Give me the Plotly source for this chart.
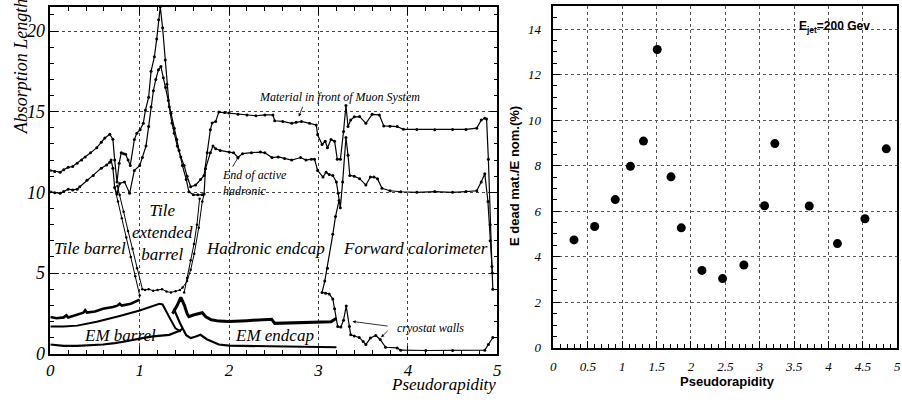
import plotly.graph_objects as go

# ---------------- left panel data (eta, absorption length) ----------------
muon_eta = [0.00,0.05,0.11,0.15,0.20,0.25,0.30,0.35,0.39,0.45,0.52,0.57,0.61,0.665,0.70,0.72,0.746,0.77,0.794,0.82,0.842,0.87,0.894,0.94,0.968,1.005,1.04,1.064,1.10,1.127,1.164,1.19,1.212,1.23,1.256,1.286,1.304,1.33,1.36,1.386,1.42,1.46,1.497,1.53,1.57,1.625,1.68,1.72,1.755,1.79,1.81,1.85,1.885,1.95,2.0,2.1,2.2,2.3,2.4,2.49,2.51,2.6,2.70,2.75,2.81,2.90,2.975,2.99,3.04,3.075,3.10,3.14,3.18,3.21,3.245,3.28,3.307,3.33,3.36,3.40,3.46,3.53,3.60,3.68,3.73,3.80,3.88,3.95,4.1,4.3,4.5,4.65,4.77,4.82,4.86,4.88,4.90,4.92,4.94,4.95]
muon_val = [11.36,11.30,11.25,11.40,11.55,11.60,11.80,12.00,12.20,12.45,12.77,13.10,13.37,13.60,13.30,12.00,10.65,11.8,12.46,12.40,12.36,12.0,11.66,13.27,13.67,13.88,14.28,15.1,15.9,17.5,18.4,19.5,20.7,21.5,20.2,18.2,16.7,15.3,14.3,13.67,12.87,12.2,11.66,11.0,10.35,10.45,10.8,11.05,12.46,13.88,14.3,14.4,14.98,14.95,14.92,14.85,14.8,14.75,14.8,14.8,14.44,14.4,14.28,14.35,14.4,14.28,14.18,13.57,12.97,13.17,12.77,13.27,13.17,12.06,12.06,13.77,15.39,14.08,14.48,14.68,14.7,14.28,14.84,14.8,14.12,14.1,14.08,13.91,13.9,13.88,13.9,13.9,13.98,14.48,14.6,14.55,12.06,8.0,5.4,4.0]

active_eta = [0.00,0.05,0.11,0.15,0.20,0.25,0.30,0.33,0.41,0.48,0.57,0.63,0.665,0.68,0.70,0.72,0.745,0.776,0.83,0.887,0.94,1.0,1.03,1.07,1.10,1.127,1.153,1.18,1.21,1.237,1.264,1.29,1.32,1.35,1.386,1.415,1.44,1.478,1.52,1.55,1.60,1.65,1.70,1.72,1.736,1.79,1.82,1.85,1.9,2.0,2.05,2.1,2.15,2.25,2.35,2.40,2.48,2.55,2.62,2.70,2.80,2.86,2.92,2.955,2.99,3.05,3.085,3.12,3.16,3.2,3.22,3.244,3.27,3.307,3.33,3.35,3.40,3.46,3.53,3.58,3.62,3.66,3.71,3.80,3.92,4.1,4.3,4.5,4.65,4.77,4.82,4.86,4.895,4.92,4.945]
active_val = [10.04,9.98,9.94,10.05,10.2,10.15,10.2,10.35,10.75,11.05,11.5,11.7,11.86,12.0,11.5,10.3,9.9,10.55,10.65,9.94,11.36,11.66,12.16,12.87,14.08,15.29,16.3,17.0,17.6,17.8,17.1,16.5,15.7,14.9,13.97,13.27,12.6,11.66,10.8,10.04,9.85,9.85,9.85,9.9,11.46,12.46,12.87,12.7,12.6,12.5,12.45,12.16,12.4,12.46,12.5,12.45,12.16,12.2,12.1,12.0,12.16,12.0,12.06,12.06,11.36,10.95,11.25,11.1,11.05,10.65,9.94,9.04,10.65,13.4,12.3,11.05,11.0,10.85,10.45,10.95,10.95,10.85,10.25,10.1,10.04,10.0,10.05,10.0,10.05,10.1,10.65,11.16,9.44,7.0,5.0]

tileb1_eta = [0.72,0.757,0.80,0.85,0.90,0.95,1.0]
tileb1_val = [10.3,9.44,8.4,7.2,6.0,4.8,3.6]
tileb2_eta = [0.75,0.776,0.82,0.87,0.92,0.97,1.03,1.06,1.10,1.15,1.20,1.25,1.30,1.35,1.40,1.45,1.48,1.53,1.57,1.61,1.66,1.70,1.72]
tileb2_val = [10.4,9.84,8.8,7.6,6.5,5.3,4.0,3.95,4.0,3.9,3.95,4.0,3.85,3.8,3.87,3.95,4.1,4.5,5.2,6.2,7.8,9.44,9.9]
hec2_eta = [1.497,1.53,1.57,1.607,1.64,1.67]
hec2_val = [3.79,4.7,5.8,6.8,8.0,9.6]

fwd_eta = [3.23,3.19,3.16,3.10,3.07,3.04,3.08,3.12,3.16,3.18,3.215,3.25,3.28,3.31,3.345,3.36,3.40,3.455,3.50,3.53,3.58,3.64,3.69,3.75,3.88,3.92,4.2,4.5,4.86,4.9,4.95]
fwd_val = [9.5,8.5,7.4,5.3,4.5,3.8,3.75,3.7,3.39,2.78,1.68,1.65,2.08,2.95,1.68,1.17,1.1,1.01,0.75,0.57,0.97,1.13,0.88,0.4,0.36,0.22,0.2,0.2,0.22,0.57,1.0]

emfront_eta = [0.00,0.15,0.30,0.45,0.59,0.72,0.85,1.03,1.15,1.33,1.44,1.48]
emfront_val = [0.57,0.48,0.48,0.52,0.57,0.66,0.77,0.97,1.07,1.17,1.4,1.55]
emtot_eta = [0.00,0.15,0.30,0.52,0.776,1.0,1.22,1.256,1.33,1.40,1.46]
emtot_val = [1.68,1.68,1.74,1.98,2.34,2.68,3.09,3.05,2.28,1.57,1.37]
presamp_eta = [0.00,0.07,0.15,0.18,0.20,0.30,0.37,0.39,0.41,0.50,0.59,0.70,0.75,0.776,0.80,0.90,0.96,1.0]
presamp_val = [2.28,2.2,2.25,2.38,2.25,2.4,2.54,2.7,2.55,2.62,2.78,2.9,2.98,3.1,2.98,3.1,3.23,3.35]
emec_eta = [1.367,1.42,1.46,1.50,1.53,1.55,1.60,1.65,1.70,1.74,1.80,1.885,2.0,2.2,2.4,2.476,2.51,2.7,2.9,3.14,3.2]
emec_val = [2.48,3.0,3.49,3.0,2.48,2.3,2.4,2.45,2.54,2.28,2.1,2.02,2.0,2.05,2.1,2.14,1.88,1.92,1.95,1.98,2.2]
emecf_eta = [1.38,1.45,1.52,1.57,1.62,1.68,1.75,1.885,2.0,2.3,2.6,2.9,3.2]
emecf_val = [2.8,1.9,1.15,0.97,1.05,1.17,0.9,0.57,0.5,0.48,0.45,0.42,0.4]

left_xticks = [0, 1, 2, 3, 4, 5]
left_yticks = [0, 5, 10, 15, 20]

# ---------------- right panel data ----------------
eta_pts = [0.30,0.60,0.90,1.12,1.31,1.51,1.71,1.86,2.16,2.46,2.77,3.07,3.22,3.72,4.13,4.53,4.84]
dead_pct = [4.74,5.33,6.51,7.97,9.08,13.1,7.51,5.27,3.40,3.04,3.64,6.24,8.97,6.23,4.58,5.67,8.74]
right_xticks = [0, 0.5, 1, 1.5, 2, 2.5, 3, 3.5, 4, 4.5, 5]
right_yticks = [0, 2, 4, 6, 8, 10, 12, 14]

SERIF = "Liberation Serif"
SANS = "Liberation Sans"

def it(s):
    return "<i>%s</i>" % s

def fmt(v):
    return ("%g" % v)

fig = go.Figure()

def dotline(x, y, w=1.2, ms=3):
    fig.add_trace(go.Scatter(x=x, y=y, mode="lines+markers", xaxis="x", yaxis="y",
                             line=dict(color="black", width=w),
                             marker=dict(color="black", size=ms), showlegend=False, hoverinfo="skip"))

def thick(x, y, w=2.6):
    fig.add_trace(go.Scatter(x=x, y=y, mode="lines", xaxis="x", yaxis="y",
                             line=dict(color="black", width=w), showlegend=False, hoverinfo="skip"))

dotline(muon_eta, muon_val)
dotline(active_eta, active_val)
dotline(tileb1_eta, tileb1_val, 1.0, 2.5)
dotline(tileb2_eta, tileb2_val, 1.0, 2.5)
dotline(hec2_eta, hec2_val, 1.0, 2.5)
dotline(fwd_eta, fwd_val, 1.2, 3)
thick(emfront_eta, emfront_val, 2.2)
thick(emtot_eta, emtot_val, 2.0)
thick(presamp_eta, presamp_val, 2.6)
thick(emec_eta, emec_val, 3.0)
thick(emecf_eta, emecf_val, 2.2)

fig.add_trace(go.Scatter(x=eta_pts, y=dead_pct, mode="markers", xaxis="x2", yaxis="y2",
                         marker=dict(color="black", size=9), showlegend=False))

tick_serif = dict(family=SERIF, size=17, color="black")
tick_serif_small = dict(family=SERIF, size=13, color="black")

fig.update_layout(
    width=902, height=403, margin=dict(l=0, r=0, t=0, b=0),
    paper_bgcolor="white", plot_bgcolor="white",
    xaxis=dict(domain=[0.0518, 0.5518], range=[0, 5], tickvals=left_xticks,
               ticktext=[it(fmt(v)) for v in left_xticks], ticklabelstandoff=0,
               showline=True, linecolor="black", linewidth=1.5, mirror="allticks",
               ticks="inside", ticklen=8, tickcolor="black",
               minor=dict(dtick=0.2, ticklen=4, ticks="inside", tickcolor="black"),
               showgrid=True, gridcolor="#444", griddash="dot", gridwidth=1,
               tickfont=tick_serif, zeroline=False, anchor="y"),
    yaxis=dict(domain=[0.100, 0.9826], range=[0, 21.5], tickvals=left_yticks,
               ticktext=[it(fmt(v)) for v in left_yticks],
               showline=True, linecolor="black", linewidth=1.5, mirror="allticks",
               ticks="inside", ticklen=8, tickcolor="black",
               minor=dict(dtick=1, ticklen=4, ticks="inside", tickcolor="black"),
               showgrid=True, gridcolor="#444", griddash="dot", gridwidth=1,
               tickfont=dict(family=SERIF, size=18, color="black"), zeroline=False, anchor="x"),
    xaxis2=dict(domain=[0.6145, 0.9992], range=[0, 5], tickvals=right_xticks,
                ticktext=[it(fmt(v)) for v in right_xticks], ticklabelstandoff=6,
                showline=True, linecolor="black", linewidth=1.5, mirror=True,
                ticks="inside", ticklen=7, tickcolor="black",
                minor=dict(dtick=0.1, ticklen=4, ticks="inside", tickcolor="black"),
                showgrid=True, gridcolor="#555", griddash="dot", gridwidth=1,
                tickfont=tick_serif_small, zeroline=False, anchor="y2"),
    yaxis2=dict(domain=[0.1149, 0.984], range=[0, 15], tickvals=right_yticks,
                ticktext=[it(fmt(v)) for v in right_yticks], ticklabelstandoff=8,
                showline=True, linecolor="black", linewidth=1.5, mirror=True,
                ticks="inside", ticklen=7, tickcolor="black",
                minor=dict(dtick=0.5, ticklen=4, ticks="inside", tickcolor="black"),
                showgrid=True, gridcolor="#555", griddash="dot", gridwidth=1,
                tickfont=tick_serif_small, zeroline=False, anchor="x2"),
)

ann = []
def dtxt(x, y, s, size=17, xanchor="center", align="center"):
    ann.append(dict(x=x, y=y, xref="x", yref="y", text=it(s), showarrow=False, xanchor=xanchor,
                    yanchor="middle", align=align,
                    font=dict(family=SERIF, size=size, color="black")))

dtxt(0.44, 6.55, "Tile barrel")
dtxt(1.257, 7.5, "Tile<br>extended<br>barrel")
dtxt(2.41, 6.55, "Hadronic endcap")
dtxt(4.08, 6.5, "Forward calorimeter")
dtxt(0.78, 1.15, "EM barrel")
dtxt(2.51, 1.15, "EM endcap")
dtxt(4.25, 1.6, "cryostat walls", 12)
dtxt(3.24, 15.9, "Material in front of Muon System", 12)
dtxt(1.90, 10.6, "End of active<br>hadronic", 12, xanchor="left", align="left")

def arrow(x, y, ax, ay):
    ann.append(dict(x=x, y=y, xref="x", yref="y", ax=ax, ay=ay, axref="x", ayref="y", text="",
                    showarrow=True, arrowhead=2, arrowsize=0.8, arrowwidth=0.8, arrowcolor="black"))

arrow(2.78, 14.7, 2.83, 15.4)
arrow(2.11, 12.25, 2.03, 11.5)
arrow(3.38, 2.0, 3.79, 1.7)
arrow(3.70, 1.02, 3.79, 1.5)

ann.append(dict(x=17/902, y=1-68/403, xref="paper", yref="paper", text=it("Absorption Length"),
                showarrow=False, textangle=-90, xanchor="center", yanchor="middle",
                font=dict(family=SERIF, size=18, color="black")))
ann.append(dict(x=498/902, y=1-394/403, xref="paper", yref="paper", text=it("Pseudorapidity"), showarrow=False,
                xanchor="right", yanchor="middle", font=dict(family=SERIF, size=17, color="black")))

# right panel labels
ann.append(dict(x=730/902, y=1-391/403, xref="paper", yref="paper", text="<b>Pseudorapidity</b>", showarrow=False,
                xanchor="center", yanchor="middle", font=dict(family=SANS, size=13, color="black")))
ann.append(dict(x=515/902, y=1-180/403, xref="paper", yref="paper", text="<b>E dead mat./E nom.(%)</b>",
                showarrow=False, textangle=-90, xanchor="center", yanchor="middle",
                font=dict(family=SANS, size=13, color="black")))
ann.append(dict(x=3.54, y=14.1, xref="x2", yref="y2", text="<b>E<sub>jet</sub>=200 Gev</b>", showarrow=False,
                xanchor="left", yanchor="middle", font=dict(family=SANS, size=12, color="black")))

fig.update_layout(annotations=ann)
fig.write_html("out.html")
